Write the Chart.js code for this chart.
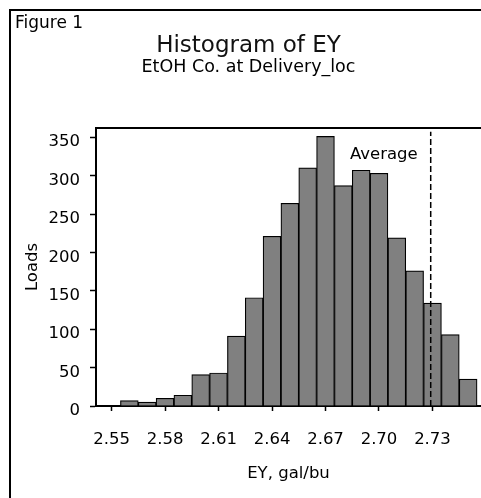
<!DOCTYPE html>
<html>
<head>
<meta charset="utf-8">
<script src="https://cdn.jsdelivr.net/npm/chart.js@4.4.0/dist/chart.umd.min.js"></script>
<style>
  html, body { margin: 0; padding: 0; background: #fff; }
  canvas { display: block; }
</style>
</head>
<body>
<canvas id="histChart" width="481" height="498"></canvas>
<script>
// bin centres (gal/bu), each bin is 0.01 wide
const binCenters = [2.56, 2.57, 2.58, 2.59, 2.60, 2.61, 2.62, 2.63, 2.64, 2.65,
                    2.66, 2.67, 2.68, 2.69, 2.70, 2.71, 2.72, 2.73, 2.74, 2.75];
// number of loads in each bin
const loads = [7, 5, 10, 14, 41, 43, 91, 141, 221, 264,
               310, 351, 287, 307, 303, 219, 176, 134, 93, 35];
const xTickValues = [2.55, 2.58, 2.61, 2.64, 2.67, 2.70, 2.73];
const yTickValues = [0, 50, 100, 150, 200, 250, 300, 350];
const averageEY = 2.729;
const averageTop = 357;
const xMin = 2.5413;
const xMax = 2.7572;
const yMax = 362;

const FONT = '"DejaVu Sans", sans-serif';
Chart.defaults.font.family = FONT;
Chart.defaults.color = '#000';

// figure frame, top edge of plot box, "Figure 1" and the Average label
const frameDecor = {
  id: 'frameDecor',
  afterDraw(chart) {
    const { ctx, chartArea, scales } = chart;
    ctx.save();
    ctx.strokeStyle = '#000';
    ctx.lineWidth = 2;
    ctx.beginPath();
    ctx.moveTo(10, chart.height);
    ctx.lineTo(10, 10);
    ctx.lineTo(chart.width, 10);
    ctx.stroke();

    ctx.beginPath();
    ctx.moveTo(chartArea.left, chartArea.top);
    ctx.lineTo(chartArea.right, chartArea.top);
    ctx.stroke();

    ctx.fillStyle = '#000';
    ctx.textBaseline = 'alphabetic';
    ctx.textAlign = 'left';
    ctx.font = '17px ' + FONT;
    ctx.fillText('Figure 1', 15, 28);

    const ax = scales.x.getPixelForValue(averageEY);
    ctx.textAlign = 'right';
    ctx.font = '16.5px ' + FONT;
    ctx.fillText('Average', ax - 13, chartArea.top + 31);
    ctx.restore();
  }
};

const ctx = document.getElementById('histChart').getContext('2d');
new Chart(ctx, {
  type: 'bar',
  data: {
    datasets: [
      {
        type: 'line',
        label: 'Average',
        data: [{ x: averageEY, y: 0 }, { x: averageEY, y: averageTop }],
        borderColor: '#000',
        borderWidth: 1.5,
        borderDash: [6, 3],
        pointRadius: 0,
        order: 0
      },
      {
        label: 'Loads',
        data: binCenters.map((c, i) => ({ x: c, y: loads[i] })),
        backgroundColor: '#808080',
        borderColor: '#000',
        borderWidth: 1.2,
        categoryPercentage: 1,
        barPercentage: 1,
        order: 1
      }
    ]
  },
  options: {
    responsive: false,
    animation: false,
    layout: { padding: { left: 16, right: 0, top: 0, bottom: 0 } },
    plugins: {
      legend: { display: false },
      tooltip: { enabled: false },
      title: {
        display: true,
        text: 'Histogram of EY',
        color: '#111',
        font: { size: 23, weight: 'normal', lineHeight: 0.8 },
        padding: { top: 37, bottom: 0 }
      },
      subtitle: {
        display: true,
        text: 'EtOH Co. at Delivery_loc',
        color: '#000',
        font: { size: 17.5, weight: 'normal', lineHeight: 0.8 },
        padding: { top: 4.6, bottom: 54 }
      }
    },
    scales: {
      x: {
        type: 'linear',
        min: xMin,
        max: xMax,
        offset: false,
        afterBuildTicks: (scale) => { scale.ticks = xTickValues.map(v => ({ value: v })); },
        afterFit: (scale) => { scale.height = 92; },
        ticks: {
          padding: 19,
          font: { size: 16.5 },
          maxRotation: 0,
          callback: (v) => Number(v).toFixed(2)
        },
        grid: {
          offset: false,
          drawOnChartArea: false,
          drawTicks: true,
          tickLength: 5,
          tickWidth: 1.5,
          tickColor: '#000'
        },
        border: { display: true, color: '#000', width: 2 },
        title: {
          display: true,
          text: 'EY, gal/bu',
          font: { size: 16.5 },
          padding: { top: 4, bottom: 14 }
        }
      },
      y: {
        type: 'linear',
        min: 0,
        max: yMax,
        afterBuildTicks: (scale) => { scale.ticks = yTickValues.map(v => ({ value: v })); },
        afterFit: (scale) => { scale.width = 80; },
        ticks: {
          padding: 10,
          labelOffset: 5,
          font: { size: 16.5 }
        },
        grid: {
          drawOnChartArea: false,
          drawTicks: true,
          tickLength: 6,
          tickWidth: 1.5,
          tickColor: '#000'
        },
        border: { display: true, color: '#000', width: 2 },
        title: {
          display: true,
          text: 'Loads',
          font: { size: 16.5 },
          padding: { top: 7, bottom: 0 }
        }
      }
    }
  },
  plugins: [frameDecor]
});
</script>
</body>
</html>
